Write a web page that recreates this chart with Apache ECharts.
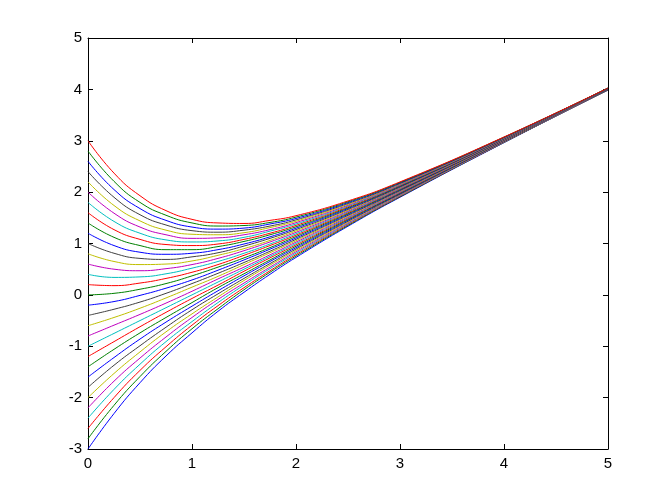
<!DOCTYPE html>
<html>
<head>
<meta charset="utf-8">
<script src="https://cdn.jsdelivr.net/npm/echarts@6/dist/echarts.min.js"></script>
<style>
html,body{margin:0;padding:0;background:#fff;}
#chart{width:672px;height:504px;}
</style>
</head>
<body>
<div id="chart"></div>
<script>
// sample times (x)
var tSamples = [0, 0.25, 0.5, 0.75, 1, 1.25, 1.5, 1.75, 2, 2.5, 3, 4, 5];
// values of the 31 curves (bottom to top) at each sample time
var yAt0    = [-3,-2.8,-2.6,-2.4,-2.2,-2,-1.8,-1.6,-1.4,-1.2,-1,-0.8,-0.6,-0.4,-0.2,0,0.2,0.4,0.6,0.8,1,1.2,1.4,1.6,1.8,2,2.2,2.4,2.6,2.8,3];
var yAt025  = [-2.31,-2.15,-2.00,-1.84,-1.68,-1.53,-1.37,-1.22,-1.06,-0.91,-0.75,-0.59,-0.44,-0.28,-0.13,0.03,0.18,0.34,0.50,0.65,0.81,0.96,1.12,1.27,1.43,1.59,1.74,1.90,2.05,2.21,2.37];
var yAt05   = [-1.71,-1.59,-1.47,-1.35,-1.23,-1.11,-0.99,-0.86,-0.74,-0.62,-0.50,-0.38,-0.26,-0.14,-0.01,0.11,0.23,0.35,0.47,0.59,0.71,0.83,0.96,1.08,1.20,1.32,1.44,1.56,1.68,1.80,1.93];
var yAt075  = [-1.19,-1.10,-1.01,-0.91,-0.82,-0.72,-0.63,-0.53,-0.44,-0.34,-0.25,-0.16,-0.06,0.03,0.13,0.22,0.32,0.41,0.51,0.60,0.69,0.79,0.88,0.98,1.07,1.17,1.26,1.36,1.45,1.55,1.64];
var yAt1    = [-0.74,-0.66,-0.59,-0.52,-0.44,-0.37,-0.29,-0.22,-0.15,-0.07,0,0.07,0.15,0.22,0.29,0.37,0.44,0.52,0.59,0.66,0.74,0.81,0.88,0.96,1.03,1.10,1.18,1.25,1.32,1.40,1.47];
var yAt125  = [-0.32,-0.27,-0.21,-0.15,-0.09,-0.04,0.02,0.08,0.14,0.19,0.25,0.31,0.36,0.42,0.48,0.54,0.59,0.65,0.71,0.77,0.82,0.88,0.94,0.99,1.05,1.11,1.17,1.22,1.28,1.34,1.40];
var yAt15   = [0.05,0.10,0.14,0.19,0.23,0.28,0.32,0.37,0.41,0.46,0.50,0.54,0.59,0.63,0.68,0.72,0.77,0.81,0.86,0.90,0.95,0.99,1.04,1.08,1.12,1.17,1.21,1.26,1.30,1.35,1.39];
var yAt175  = [0.40,0.44,0.47,0.51,0.54,0.58,0.61,0.65,0.68,0.72,0.75,0.78,0.82,0.85,0.89,0.92,0.96,0.99,1.03,1.06,1.10,1.13,1.17,1.20,1.24,1.27,1.31,1.34,1.38,1.41,1.45];
var yAt2    = [0.729,0.756,0.783,0.811,0.838,0.865,0.892,0.919,0.946,0.973,1.000,1.027,1.054,1.081,1.108,1.135,1.162,1.189,1.217,1.244,1.271,1.298,1.325,1.352,1.379,1.406,1.433,1.460,1.487,1.514,1.541];
var yAt25   = [1.336,1.352,1.369,1.385,1.401,1.418,1.434,1.451,1.467,1.484,1.500,1.516,1.533,1.549,1.566,1.582,1.599,1.615,1.631,1.648,1.664,1.681,1.697,1.713,1.730,1.746,1.763,1.779,1.796,1.812,1.828];
var yAt3    = [1.900,1.910,1.920,1.930,1.940,1.950,1.960,1.970,1.980,1.990,2.000,2.010,2.020,2.030,2.040,2.050,2.060,2.070,2.080,2.090,2.100,2.110,2.119,2.129,2.139,2.149,2.159,2.169,2.179,2.189,2.199];
var yAt4    = [2.963,2.967,2.971,2.974,2.978,2.982,2.985,2.989,2.993,2.996,3.000,3.004,3.007,3.011,3.015,3.018,3.022,3.026,3.029,3.033,3.037,3.040,3.044,3.048,3.051,3.055,3.059,3.062,3.066,3.070,3.073];
var yAt5    = [3.987,3.988,3.989,3.991,3.992,3.993,3.995,3.996,3.997,3.999,4.000,4.001,4.003,4.004,4.005,4.007,4.008,4.009,4.011,4.012,4.013,4.015,4.016,4.018,4.019,4.020,4.022,4.023,4.024,4.026,4.027];
var columns = [yAt0, yAt025, yAt05, yAt075, yAt1, yAt125, yAt15, yAt175, yAt2, yAt25, yAt3, yAt4, yAt5];
var xTicks = [0, 1, 2, 3, 4, 5];
var yTicks = [-3, -2, -1, 0, 1, 2, 3, 4, 5];
var colorOrder = ['#0000FF', '#008000', '#FF0000', '#00BFBF', '#BF00BF', '#BFBF00', '#404040'];

var nCurves = yAt0.length;
var series = [];
for (var k = 0; k < nCurves; k++) {
  var data = [];
  for (var i = 0; i < tSamples.length; i++) data.push([tSamples[i], columns[i][k]]);
  series.push({
    type: 'line', data: data, showSymbol: false, smooth: 0.5,
    lineStyle: { width: 1, color: colorOrder[k % colorOrder.length] },
    silent: true, z: 2
  });
}

var labelStyle = { color: '#000', fontSize: 15, fontFamily: 'Liberation Sans, Arial, sans-serif' };
function axisCommon(extra) {
  var base = {
    type: 'value',
    axisLine: { show: true, onZero: false, lineStyle: { color: '#000', width: 1 } },
    axisTick: { show: true, inside: true, length: 5, lineStyle: { color: '#000' } },
    splitLine: { show: false }
  };
  for (var key in extra) base[key] = extra[key];
  return base;
}

var chart = echarts.init(document.getElementById('chart'), null, { renderer: 'canvas' });
chart.setOption({
  animation: false,
  backgroundColor: '#fff',
  grid: { left: 88, top: 38, width: 520, height: 411, containLabel: false },
  xAxis: [
    axisCommon({ position: 'bottom', min: xTicks[0], max: xTicks[xTicks.length - 1], interval: 1,
      axisLabel: Object.assign({ margin: 7 }, labelStyle) }),
    axisCommon({ position: 'top', min: xTicks[0], max: xTicks[xTicks.length - 1], interval: 1,
      axisLabel: { show: false } })
  ],
  yAxis: [
    axisCommon({ position: 'left', min: yTicks[0], max: yTicks[yTicks.length - 1], interval: 1,
      axisLabel: Object.assign({ margin: 6 }, labelStyle) }),
    axisCommon({ position: 'right', min: yTicks[0], max: yTicks[yTicks.length - 1], interval: 1,
      axisLabel: { show: false } })
  ],
  series: series
});
</script>
</body>
</html>
